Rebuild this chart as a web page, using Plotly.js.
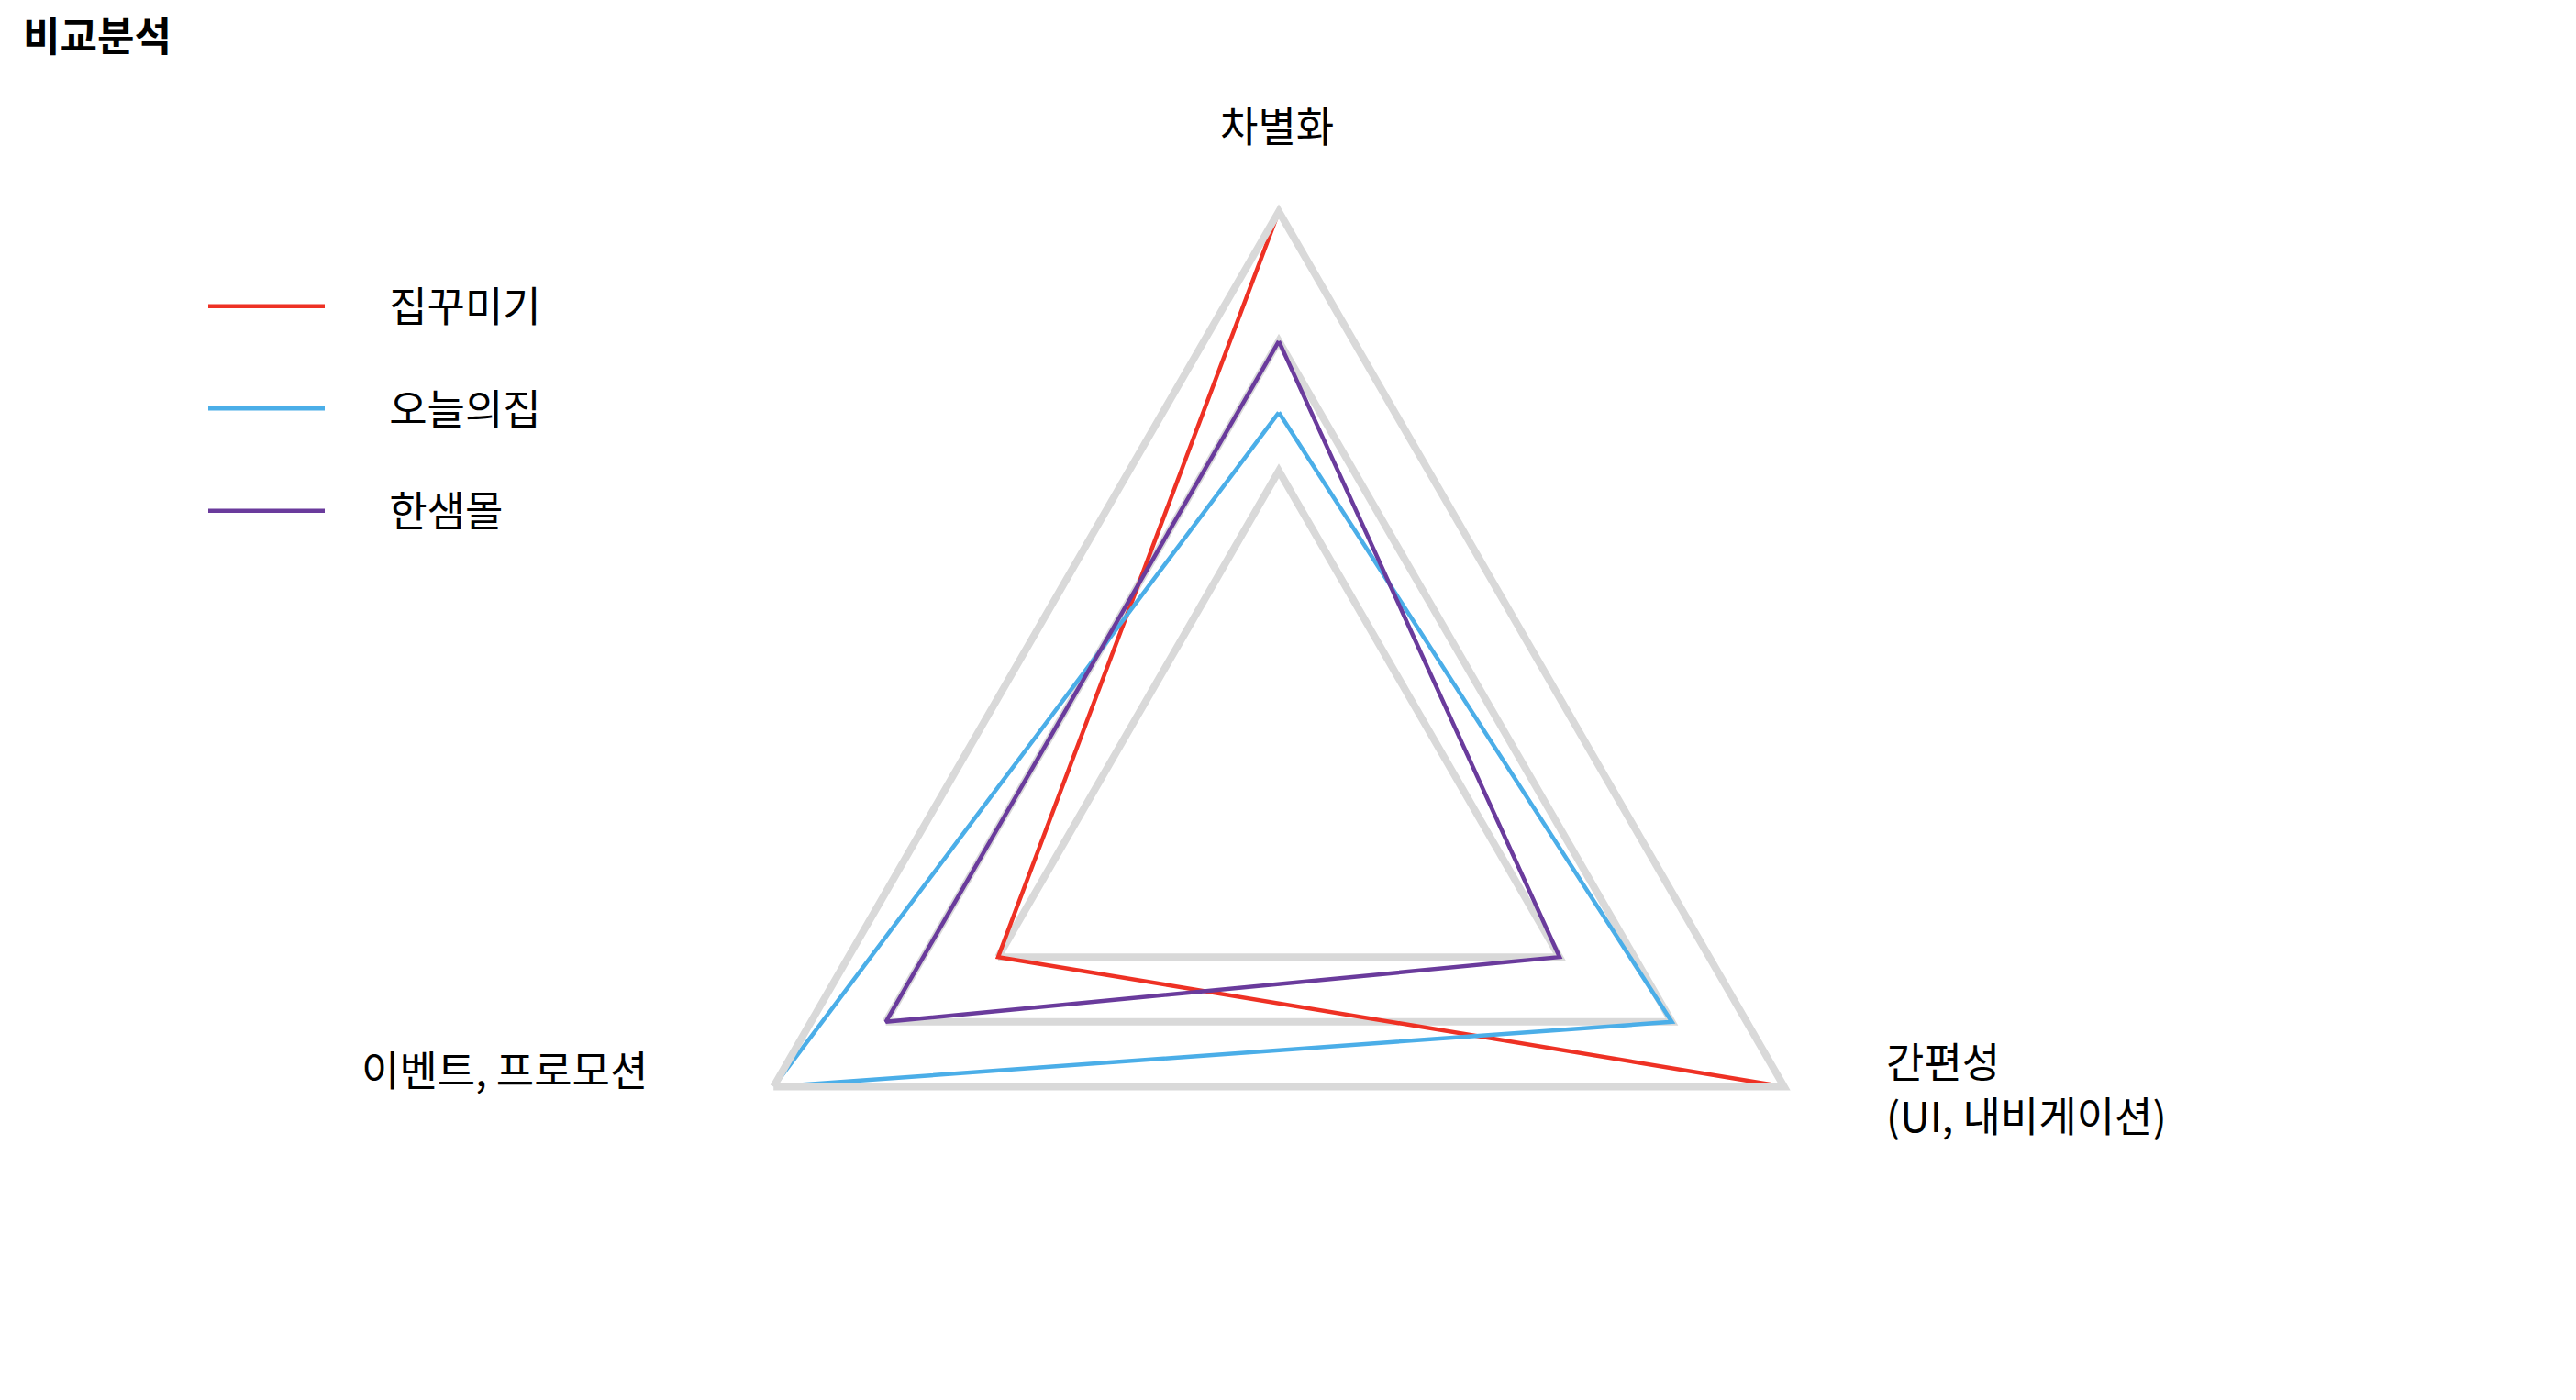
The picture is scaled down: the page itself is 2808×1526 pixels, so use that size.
<!DOCTYPE html>
<html><head><meta charset="utf-8">
<script src="https://cdn.plot.ly/plotly-3.0.1.min.js"></script>
<style>html,body{margin:0;padding:0;background:#fff}#chart{width:2808px;height:1526px}</style>
</head><body><div id="chart"></div>
<script>
// ---- data ----
const chartTitle = '비교분석';
const categories = ['차별화', '간편성', '이벤트, 프로모션'];
const categoryLabels = ['차별화', '간편성<br>(UI, 내비게이션)', '이벤트, 프로모션'];
const seriesNames = ['집꾸미기', '오늘의집', '한샘몰'];
const jipkkumigi = [5, 5, 3];
const ohouse = [3.45, 4, 5];
const hanssem = [4, 3, 4];
const gridVals = [3, 4];
const radialRange = [0.5, 5];

// ---- styles ----
const colors = ['#EE3124', '#4BAEE8', '#6A3B9C'];
const FONT = '"Noto Sans CJK KR", "Noto Sans", sans-serif';
const pad = '\u3000\u00a0\u00a0';

const seriesValues = [jipkkumigi, ohouse, hanssem];
const traces = seriesValues.map((vals, i) => ({
  type: 'scatterpolar',
  mode: 'lines',
  r: vals.concat([vals[0]]),
  theta: categories.concat([categories[0]]),
  name: pad + seriesNames[i],
  legendgroup: 'g' + i,
  line: {color: colors[i], width: 4.5},
  hoverinfo: 'skip'
}));

const annPos = [
  {x: 1392/2808, y: (1526-136)/1526, xanchor: 'center', align: 'center'},
  {x: 2054/2808, y: (1526-1185)/1526, xanchor: 'left', align: 'left'},
  {x: 708/2808, y: (1526-1164)/1526, xanchor: 'right', align: 'right'}
];
const annotations = categoryLabels.map((t, i) => ({
  text: t, xref: 'paper', yref: 'paper', x: annPos[i].x, y: annPos[i].y,
  xanchor: annPos[i].xanchor, yanchor: 'middle', align: annPos[i].align,
  showarrow: false, font: {family: FONT, size: 45, color: '#000'}
}));

const layout = {
  width: 2808, height: 1526,
  margin: {l: 0, r: 0, t: 0, b: 0},
  paper_bgcolor: '#fff',
  font: {family: FONT, size: 45, color: '#000'},
  title: {text: '<b>' + chartTitle + '</b>', x: 25/2808, xanchor: 'left', xref: 'container',
          y: 1 - 41/1526, yref: 'container', yanchor: 'middle',
          font: {family: FONT, size: 44, color: '#000'}},
  showlegend: true,
  legend: {x: 222/2808, xanchor: 'left', y: (1526-298)/1526, yanchor: 'top',
           font: {family: FONT, size: 45, color: '#000'}, itemwidth: 127,
           tracegroupgap: 50, bgcolor: 'rgba(0,0,0,0)', borderwidth: 0},
  polar: {
    domain: {x: [758/2808, 2030/2808], y: [23.5/1526, 1295.5/1526]},
    bgcolor: 'rgba(0,0,0,0)',
    gridshape: 'linear',
    radialaxis: {range: radialRange, tickvals: gridVals, showticklabels: false, ticks: '',
                 showline: false, gridcolor: '#d9d9d9', gridwidth: 8},
    angularaxis: {type: 'category', categoryorder: 'array', categoryarray: categories,
                  direction: 'clockwise', rotation: 90, showgrid: false, showticklabels: false,
                  ticks: '', showline: true, linecolor: '#d9d9d9', linewidth: 8}
  },
  annotations: annotations,
  hovermode: false
};

Plotly.newPlot('chart', traces, layout, {displayModeBar: false, staticPlot: true});
</script>
</body></html>
